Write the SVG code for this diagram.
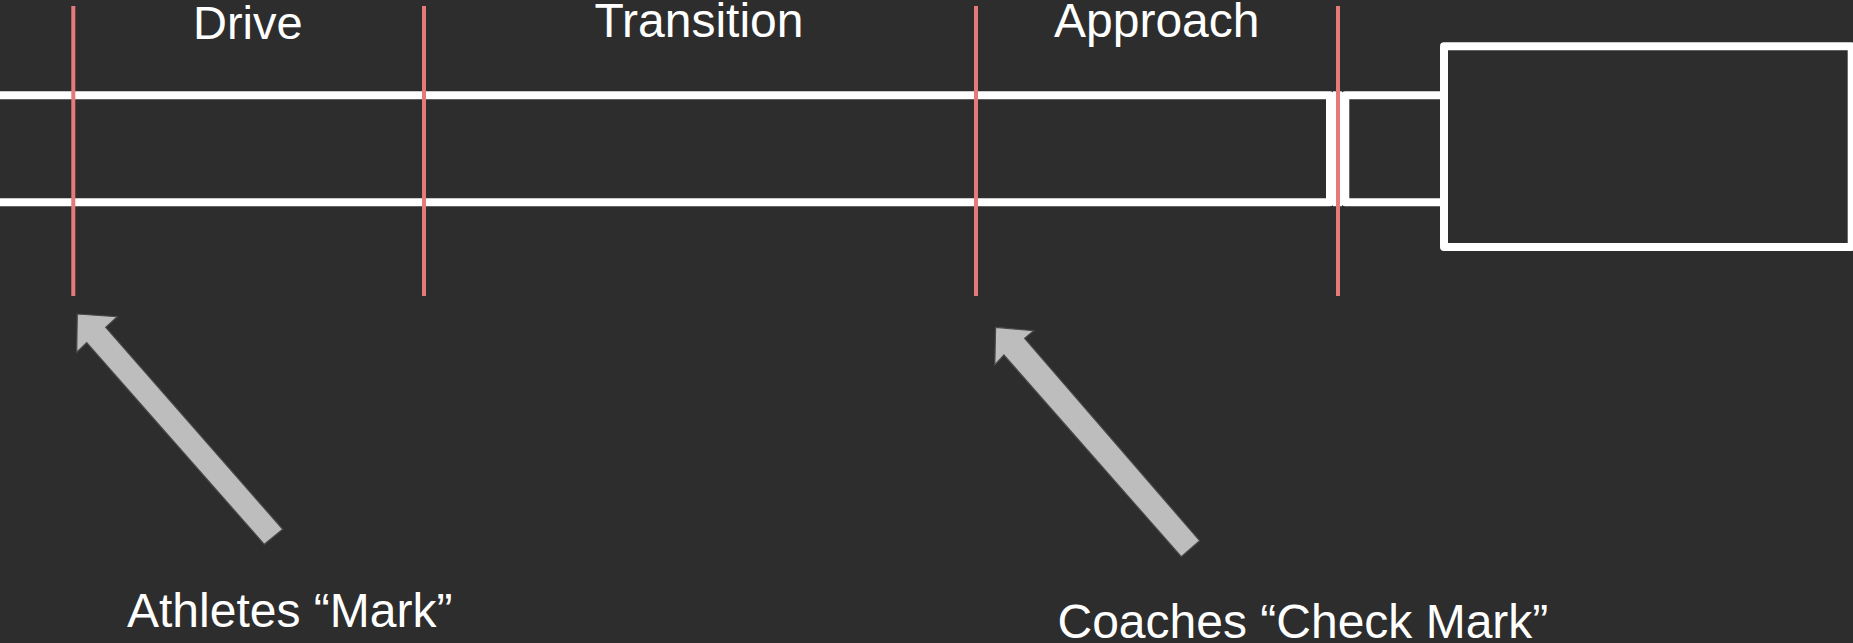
<svg xmlns="http://www.w3.org/2000/svg" width="1853" height="643" viewBox="0 0 1853 643">
  <style>
    .bg { fill: #2d2d2d; }
    .lane { fill: #2d2d2d; stroke: #ffffff; stroke-width: 8; stroke-linejoin: round; }
    .seam { fill: #ffffff; }
    .mark { stroke: #e67a78; stroke-width: 4; }
    .pointer { fill: #bdbdbd; stroke: #4a4a4a; stroke-width: 1.2; stroke-linejoin: miter; }
    .label { fill: #ffffff; font-family: "Liberation Sans", Arial, sans-serif; font-size: 48px; }
    .caption { fill: #ffffff; font-family: "Liberation Sans", Arial, sans-serif; font-size: 48px; }
  </style>

  <rect class="bg" x="0" y="0" width="1853" height="643"/>

  <!-- runway, box and pit -->
  <g id="runway">
    <path class="lane" d="M -10 95.3 H 1330 V 202.2 H -10"/>
  </g>
  <g id="takeoff-box">
    <rect class="lane" x="1345.3" y="95.3" width="120" height="106.9"/>
    <rect class="seam" x="1333" y="91.3" width="9" height="114.9"/>
  </g>
  <g id="pit">
    <rect class="lane" x="1444" y="46.3" width="407.7" height="200.7"/>
  </g>

  <!-- phase boundary marks -->
  <g id="phase-marks">
    <line class="mark" x1="73.3" y1="6" x2="73.3" y2="296"/>
    <line class="mark" x1="424" y1="6" x2="424" y2="296"/>
    <line class="mark" x1="976" y1="6" x2="976" y2="296"/>
    <line class="mark" x1="1338" y1="6" x2="1338" y2="296"/>
  </g>

  <!-- phase labels -->
  <g id="label-drive"><text class="label" x="193" y="39.3" style="font-size:47px">Drive</text></g>
  <g id="label-transition"><text class="label" x="594.5" y="37.3">Transition</text></g>
  <g id="label-approach"><text class="label" x="1054" y="37.3">Approach</text></g>

  <!-- pointers -->
  <g id="connectors">
    <polygon class="pointer" points="77.3,314 117.3,316.7 105.7,327.3 282.7,529.3 264.3,544.3 86.7,342.7 76.7,352.3"/>
    <polygon class="pointer" points="995.6,327.3 1033.7,330.7 1024.6,338.3 1199.6,540.7 1181.3,556.7 1003.9,355 994.8,365"/>
  </g>

  <!-- captions -->
  <g id="caption-athletes"><text class="caption" x="127" y="627">Athletes “Mark”</text></g>
  <g id="caption-coaches"><text class="caption" x="1057.5" y="638">Coaches “Check Mark”</text></g>
</svg>
